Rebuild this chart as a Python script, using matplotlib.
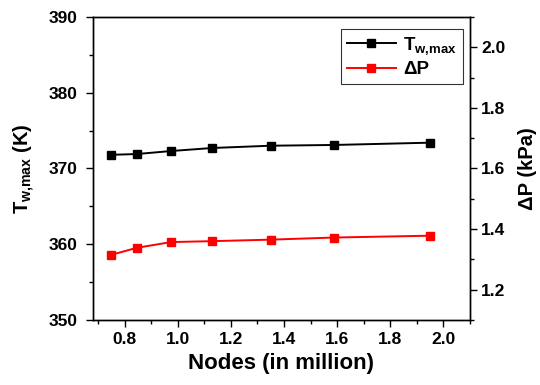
import matplotlib
matplotlib.use('Agg')
import matplotlib.pyplot as plt
from matplotlib.ticker import MultipleLocator, FormatStrFormatter

plt.rcParams['font.family'] = ['Liberation Sans', 'DejaVu Sans']
plt.rcParams['font.weight'] = 'bold'
plt.rcParams['mathtext.fontset'] = 'custom'
plt.rcParams['mathtext.rm'] = 'Liberation Sans:bold'
plt.rcParams['mathtext.bf'] = 'Liberation Sans:bold'
plt.rcParams['mathtext.it'] = 'Liberation Sans:bold'
plt.rcParams['mathtext.default'] = 'bf'

# mesh sizes (million nodes)
nodes = [0.75, 0.845, 0.975, 1.13, 1.35, 1.59, 1.95]
# max wall temperature (K)
t_wmax = [371.8, 371.9, 372.3, 372.7, 373.0, 373.1, 373.4]
# pressure drop (kPa)
dp = [1.315, 1.338, 1.357, 1.360, 1.365, 1.372, 1.378]

fig = plt.figure(figsize=(5.4, 3.85), dpi=100)
ax = fig.add_axes([0.172, 0.169, 0.698, 0.787])
ax2 = ax.twinx()

l1, = ax.plot(nodes, t_wmax, color='black', marker='s', ms=5.5, lw=1.4, label=r'T$_{w{,}max}$')
l2, = ax2.plot(nodes, dp, color='red', marker='s', ms=5.5, lw=1.4, label='ΔP')

ax.set_xlim(0.68, 2.1)
ax.set_ylim(350, 390)
ax2.set_ylim(1.1, 2.1)

ax.xaxis.set_major_locator(MultipleLocator(0.2))
ax.xaxis.set_minor_locator(MultipleLocator(0.1))
ax.xaxis.set_major_formatter(FormatStrFormatter('%.1f'))
ax.yaxis.set_major_locator(MultipleLocator(10))
ax.yaxis.set_minor_locator(MultipleLocator(5))
ax2.yaxis.set_major_locator(MultipleLocator(0.2))
ax2.yaxis.set_minor_locator(MultipleLocator(0.1))
ax2.yaxis.set_major_formatter(FormatStrFormatter('%.1f'))

for a in (ax, ax2):
	a.tick_params(which='major', length=5, width=1, labelsize=12.5, direction='out')
	a.tick_params(which='minor', length=3, width=1, direction='out')
	for s in a.spines.values():
		s.set_linewidth(1.0)
ax.tick_params(axis='y', pad=6)
ax.tick_params(axis='x', pad=4)
ax2.tick_params(axis='y', pad=3)

ax.set_xlabel('Nodes (in million)', fontsize=16, fontweight='bold', labelpad=4)
ax.set_ylabel(r'T$_{w{,}max}$ (K)', fontsize=14.5, fontweight='bold', labelpad=8)
ax2.set_ylabel('ΔP (kPa)', fontsize=14.5, fontweight='bold', labelpad=9)

leg = ax.legend(handles=[l1, l2], loc='upper right', bbox_to_anchor=(0.981, 0.96),
	borderaxespad=0, fontsize=13.5, frameon=True, fancybox=False, handlelength=2.6,
	borderpad=0.3, labelspacing=0.25, handletextpad=0.4)
leg.get_frame().set_edgecolor('black')
leg.get_frame().set_linewidth(0.8)

fig.savefig('out.png', dpi=100)
